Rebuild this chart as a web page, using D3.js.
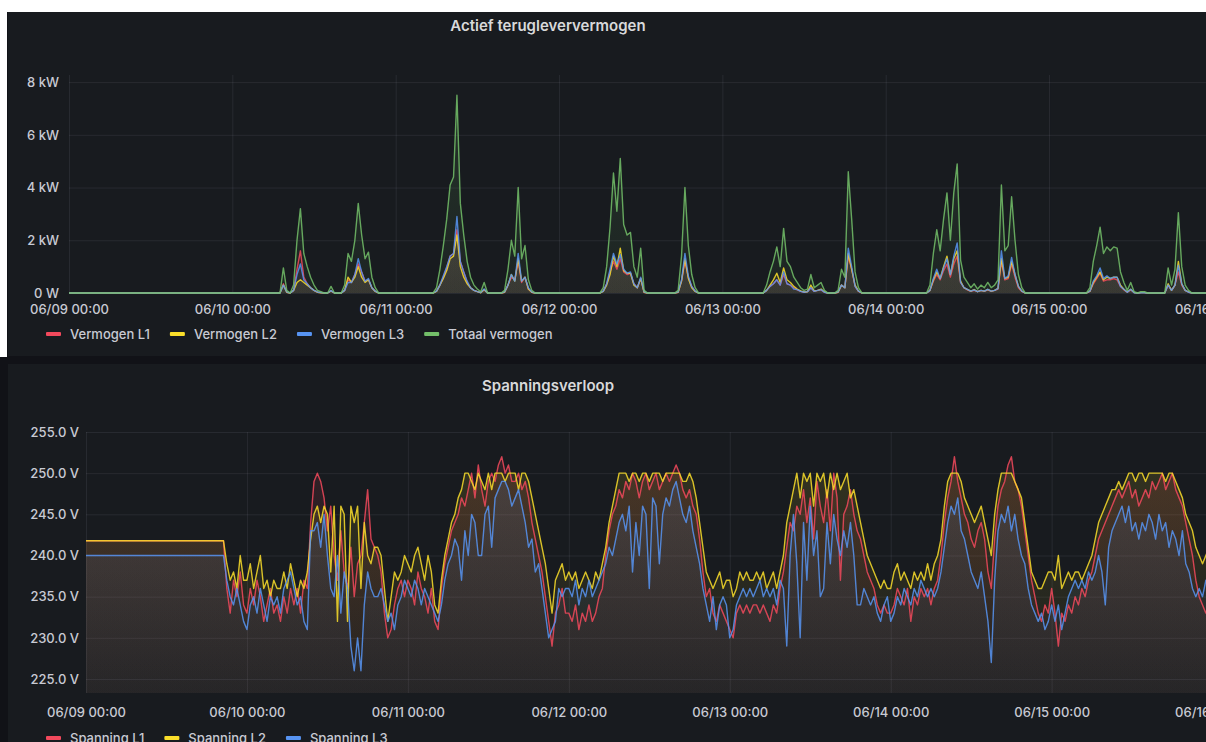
<!DOCTYPE html>
<html>
<head>
<meta charset="utf-8">
<script src="https://cdn.jsdelivr.net/npm/d3@7"></script>
<style>
  body { margin: 0; background: #ffffff; overflow: hidden; }
  svg { display: block; }
  text { font-family: Inter, Roboto, "Noto Sans", sans-serif; }
</style>
</head>
<body>
<div id="chart"></div>
<script>
// samples every 30 minutes, starting 06/09 00:00 (one row = one day)
var startTime = Date.UTC(2023, 5, 9, 0, 0);
var stepMinutes = 30;

// ---- Actief terugleververmogen (kW) ----
var totaalVermogen = [
  0,0,0,0,0,0,0,0,0,0,0,0, 0,0,0,0,0,0,0,0,0,0,0,0, 0,0,0,0,0,0,0,0,0,0,0,0, 0,0,0,0,0,0,0,0,0,0,0,0,
  0,0,0,0,0,0,0,0,0,0,0,0, 0,0,0,0.95,0.1,0,0.3,2.0,3.2,1.5,1.0,0.6, 0.3,0.1,0.05,0,0,0.25,0,0,0,0.3,1.5,1.2, 2.0,3.4,2.2,1.3,1.55,0.6,0.2,0,0,0,0,0,
  0,0,0,0,0,0,0,0,0,0,0,0, 0.2,0.9,1.8,2.8,4.1,4.4,7.5,3.4,2.2,1.2,0.6,0.3, 0.15,0.05,0.4,0,0,0,0,0,0.1,0.9,2.0,1.4, 4.0,1.3,1.8,0.5,0.1,0,0,0,0,0,0,0,
  0,0,0,0,0,0,0,0,0,0,0,0, 0,0.2,1.0,2.5,4.55,3.1,5.1,2.6,2.2,2.3,1.0,0.6, 1.7,0.1,0,0,0,0,0,0,0,0,0,0.1, 1.4,4.0,1.8,0.7,0.2,0,0,0,0,0,0,0,
  0,0,0,0,0,0,0,0,0,0,0,0, 0,0.3,0.8,1.2,1.75,1.0,2.45,1.2,1.0,0.6,0.4,0.2, 0.1,0.15,0.7,0.2,0.3,0.4,0.1,0,0,0,0.1,0.9, 0.6,4.6,2.8,0.8,0.2,0,0,0,0,0,0,0,
  0,0,0,0,0,0,0,0,0,0,0,0, 0,0.3,1.5,2.4,1.6,2.8,3.8,2.0,3.8,4.9,1.25,0.6, 0.4,0.2,0.35,0.15,0.3,0.2,0.4,0.2,0.3,0.5,4.1,1.6, 1.8,3.65,2.0,0.7,0.2,0,0,0,0,0,0,0,
  0,0,0,0,0,0,0,0,0,0,0,0, 0.2,1.2,1.8,2.5,1.5,1.75,1.6,1.75,1.7,0.8,0.4,0.1, 0.4,0.05,0,0.05,0.05,0,0,0,0,0,0,0.95, 0.3,0.9,3.05,1.0,0.3,0.1,0,0,0,0,0,0,
  0,0,0,0
];
var vermogenL1 = [
  0,0,0,0,0,0,0,0,0,0,0,0, 0,0,0,0,0,0,0,0,0,0,0,0, 0,0,0,0,0,0,0,0,0,0,0,0, 0,0,0,0,0,0,0,0,0,0,0,0,
  0,0,0,0,0,0,0,0,0,0,0,0, 0,0,0,0.35,0.03,0,0.1,0.9,1.6,0.6,0.35,0.2, 0.1,0.03,0.02,0,0,0.08,0,0,0,0.1,0.5,0.4, 0.7,1.1,0.8,0.45,0.5,0.2,0.07,0,0,0,0,0,
  0,0,0,0,0,0,0,0,0,0,0,0, 0.07,0.3,0.6,0.95,1.4,1.5,2.4,1.2,0.8,0.4,0.2,0.1, 0.05,0.02,0.12,0,0,0,0,0,0.03,0.3,0.6,0.5, 1.2,0.4,0.6,0.15,0.03,0,0,0,0,0,0,0,
  0,0,0,0,0,0,0,0,0,0,0,0, 0,0.07,0.35,0.8,1.2,0.9,1.3,0.8,0.7,0.75,0.35,0.2, 0.55,0.03,0,0,0,0,0,0,0,0,0,0.03, 0.45,1.2,0.6,0.25,0.07,0,0,0,0,0,0,0,
  0,0,0,0,0,0,0,0,0,0,0,0, 0,0.1,0.25,0.35,0.5,0.3,0.7,0.35,0.3,0.2,0.12,0.06, 0.03,0.05,0.2,0.06,0.1,0.12,0.03,0,0,0,0.03,0.3, 0.2,1.4,0.9,0.25,0.06,0,0,0,0,0,0,0,
  0,0,0,0,0,0,0,0,0,0,0,0, 0,0.1,0.45,0.7,0.5,0.85,1.1,0.6,1.1,1.4,0.4,0.2, 0.12,0.06,0.1,0.05,0.1,0.06,0.12,0.06,0.1,0.15,1.2,0.5, 0.55,1.1,0.6,0.2,0.06,0,0,0,0,0,0,0,
  0,0,0,0,0,0,0,0,0,0,0,0, 0.06,0.35,0.55,0.75,0.45,0.5,0.5,0.55,0.5,0.25,0.12,0.03, 0.12,0.02,0,0.02,0.02,0,0,0,0,0,0,0.3, 0.1,0.3,0.8,0.3,0.1,0.03,0,0,0,0,0,0,
  0,0,0,0
];
var vermogenL2 = [
  0,0,0,0,0,0,0,0,0,0,0,0, 0,0,0,0,0,0,0,0,0,0,0,0, 0,0,0,0,0,0,0,0,0,0,0,0, 0,0,0,0,0,0,0,0,0,0,0,0,
  0,0,0,0,0,0,0,0,0,0,0,0, 0,0,0,0.3,0.03,0,0.1,0.4,0.5,0.4,0.3,0.2, 0.1,0.03,0.01,0,0,0.08,0,0,0,0.1,0.6,0.4, 0.6,1.0,0.6,0.4,0.5,0.2,0.06,0,0,0,0,0,
  0,0,0,0,0,0,0,0,0,0,0,0, 0.06,0.3,0.55,0.85,1.3,1.4,2.2,1.0,0.6,0.35,0.2,0.1, 0.05,0.01,0.13,0,0,0,0,0,0.03,0.3,0.7,0.45, 1.3,0.45,0.6,0.15,0.03,0,0,0,0,0,0,0,
  0,0,0,0,0,0,0,0,0,0,0,0, 0,0.06,0.3,0.7,1.4,1.0,1.7,0.85,0.75,0.75,0.3,0.2, 0.55,0.03,0,0,0,0,0,0,0,0,0,0.03, 0.45,1.3,0.55,0.2,0.06,0,0,0,0,0,0,0,
  0,0,0,0,0,0,0,0,0,0,0,0, 0,0.1,0.3,0.5,0.75,0.4,0.95,0.5,0.4,0.25,0.15,0.08, 0.04,0.05,0.3,0.08,0.1,0.15,0.04,0,0,0,0.03,0.3, 0.2,1.5,0.9,0.3,0.07,0,0,0,0,0,0,0,
  0,0,0,0,0,0,0,0,0,0,0,0, 0,0.1,0.5,0.8,0.55,1.0,1.4,0.7,1.3,1.6,0.45,0.2, 0.14,0.07,0.13,0.05,0.1,0.07,0.14,0.07,0.1,0.18,1.3,0.55, 0.6,1.2,0.7,0.25,0.07,0,0,0,0,0,0,0,
  0,0,0,0,0,0,0,0,0,0,0,0, 0.07,0.4,0.6,0.8,0.5,0.6,0.55,0.6,0.6,0.3,0.14,0.04, 0.14,0.02,0,0.02,0.02,0,0,0,0,0,0,0.35, 0.1,0.3,1.2,0.35,0.1,0.04,0,0,0,0,0,0,
  0,0,0,0
];
var vermogenL3 = [
  0,0,0,0,0,0,0,0,0,0,0,0, 0,0,0,0,0,0,0,0,0,0,0,0, 0,0,0,0,0,0,0,0,0,0,0,0, 0,0,0,0,0,0,0,0,0,0,0,0,
  0,0,0,0,0,0,0,0,0,0,0,0, 0,0,0,0.3,0.04,0,0.1,0.7,1.1,0.5,0.35,0.2, 0.1,0.04,0.02,0,0,0.09,0,0,0,0.1,0.4,0.4, 0.7,1.3,0.8,0.45,0.55,0.2,0.07,0,0,0,0,0,
  0,0,0,0,0,0,0,0,0,0,0,0, 0.07,0.3,0.65,1.0,1.4,1.5,2.9,1.2,0.8,0.45,0.2,0.1, 0.05,0.02,0.15,0,0,0,0,0,0.04,0.3,0.7,0.45, 1.5,0.45,0.6,0.2,0.04,0,0,0,0,0,0,0,
  0,0,0,0,0,0,0,0,0,0,0,0, 0,0.07,0.35,0.9,1.5,1.1,1.45,0.9,0.75,0.8,0.35,0.2, 0.6,0.04,0,0,0,0,0,0,0,0,0,0.04, 0.5,1.5,0.65,0.25,0.07,0,0,0,0,0,0,0,
  0,0,0,0,0,0,0,0,0,0,0,0, 0,0.1,0.25,0.35,0.5,0.3,0.8,0.35,0.3,0.15,0.13,0.06, 0.03,0.05,0.2,0.06,0.1,0.13,0.03,0,0,0,0.04,0.3, 0.2,1.7,1.0,0.25,0.07,0,0,0,0,0,0,0,
  0,0,0,0,0,0,0,0,0,0,0,0, 0,0.1,0.55,0.9,0.55,0.95,1.3,0.7,1.4,1.9,0.4,0.2, 0.14,0.07,0.12,0.05,0.1,0.07,0.14,0.07,0.1,0.17,1.6,0.55, 0.65,1.35,0.7,0.25,0.07,0,0,0,0,0,0,0,
  0,0,0,0,0,0,0,0,0,0,0,0, 0.07,0.45,0.65,0.95,0.55,0.65,0.55,0.6,0.6,0.25,0.14,0.03, 0.14,0.01,0,0.01,0.01,0,0,0,0,0,0,0.3, 0.1,0.3,1.05,0.35,0.1,0.03,0,0,0,0,0,0,
  0,0,0,0
];

// ---- Spanningsverloop (V) ----
var spanningL1 = [
  241.8,241.8,241.8,241.8,241.8,241.8,241.8,241.8,241.8,241.8,241.8,241.8, 241.8,241.8,241.8,241.8,241.8,241.8,241.8,241.8,241.8,241.8,241.8,241.8,
  241.8,241.8,241.8,241.8,241.8,241.8,241.8,241.8,241.8,241.8,241.8,241.8, 241.8,241.8,241.8,241.8,241.8,241.8,236,233,237,235,238,234,
  233,236,234,237,235,232,234,236,233,234,232,235, 233,236,234,236,233,237,236,244,249,250,249,247,
  243,246,240,237,243,238,236,241,235,239,240,244, 248,242,241,240,238,233,230,231,234,236,237,235,
  237,236,234,238,236,235,233,236,232,231,236,239, 241,243,244,245,247,246,248,250,247,251,248,246,
  249,250,249,251,252,250,251,249,249,250,248,249, 247,244,242,240,238,235,232,229,233,234,236,233,
  233,232,234,231,233,232,234,232,233,235,236,240, 243,245,246,248,247,249,248,250,249,247,249,250,
  248,249,250,248,249,250,249,250,251,250,248,247, 248,246,245,242,238,235,236,233,232,234,233,232,
  231,230,233,234,233,234,233,234,234,233,234,233, 232,234,233,236,238,241,244,243,246,245,248,244,
  247,242,249,246,244,248,243,250,247,237,245,246, 248,245,243,242,240,238,237,236,234,233,234,233,
  233,234,236,235,234,236,232,235,234,236,235,236, 234,236,237,240,244,247,249,252,249,247,245,244,
  242,241,243,244,242,238,236,242,246,248,249,251, 252,249,248,246,243,240,237,235,233,232,234,233,
  236,233,229,233,232,234,233,235,234,236,235,237, 238,240,242,243,244,245,246,247,248,247,248,249,
  247,248,246,247,248,247,249,248,249,250,248,249, 250,248,247,246,244,242,240,237,235,234,233,234,
  236,237,235,236
];
var spanningL2 = [
  241.8,241.8,241.8,241.8,241.8,241.8,241.8,241.8,241.8,241.8,241.8,241.8, 241.8,241.8,241.8,241.8,241.8,241.8,241.8,241.8,241.8,241.8,241.8,241.8,
  241.8,241.8,241.8,241.8,241.8,241.8,241.8,241.8,241.8,241.8,241.8,241.8, 241.8,241.8,241.8,241.8,241.8,241.8,239,237,238,236,240,237,
  237,239,236,238,240,236,237,235,237,236,236,238, 236,239,237,235,237,236,238,242,245,246,244,246,
  245,238,246,232,246,245,232,246,244,246,236,244, 240,239,241,241,240,236,232,235,238,237,238,240,
  239,238,240,241,239,237,240,238,234,233,237,240, 242,244,245,247,248,250,250,249,248,250,249,248,
  250,248,250,250,250,249,250,250,250,248,250,250, 249,247,245,243,241,239,236,233,237,238,239,237,
  238,237,238,236,237,238,237,236,238,237,239,241, 244,246,248,250,250,250,249,250,250,249,250,250,
  249,250,250,250,249,250,250,250,250,250,249,249, 250,249,247,244,241,238,237,236,237,238,236,237,
  237,235,236,238,237,238,237,237,238,237,238,236, 237,238,236,238,240,244,246,248,250,247,250,249,
  250,246,250,249,250,247,250,248,250,248,249,250, 247,248,246,244,242,240,239,238,237,236,237,236,
  236,238,239,237,238,237,236,238,237,238,237,239, 237,239,240,242,246,249,250,250,250,249,247,246,
  245,244,245,246,244,242,240,245,248,250,250,250, 250,249,248,247,244,241,238,237,236,236,237,238,
  238,237,240,236,237,238,237,238,238,237,238,239, 240,242,244,245,246,247,248,248,249,248,249,250,
  250,249,250,250,249,250,250,250,250,250,249,250, 250,249,248,247,245,244,243,241,240,239,240,241,
  240,241,240,240
];
var spanningL3 = [
  240,240,240,240,240,240,240,240,240,240,240,240, 240,240,240,240,240,240,240,240,240,240,240,240,
  240,240,240,240,240,240,240,240,240,240,240,240, 240,240,240,240,240,240,237,235,234,236,234,232,
  231,234,235,233,236,234,232,235,234,235,233,236, 237,238,236,234,235,232,231,243,243,244,241,245,
  240,236,235,240,233,238,236,229,226,230,226,234, 238,236,235,235,236,234,232,233,231,234,235,237,
  236,235,237,236,234,236,235,234,233,232,234,237, 239,240,242,241,237,243,240,245,244,240,240,245,
  246,241,247,248,249,249,248,246,247,248,246,244, 241,242,238,239,236,233,230,231,232,236,235,236,
  236,235,237,234,236,235,237,235,236,237,238,239, 241,240,242,244,245,243,246,238,244,240,246,245,
  236,247,246,239,245,247,246,248,249,247,245,244, 246,243,241,239,236,234,232,235,231,234,235,234,
  230,231,234,235,236,235,236,235,236,237,235,236, 235,236,234,237,236,229,240,245,239,230,244,237,
  246,240,243,235,236,244,239,245,242,240,243,241, 244,240,234,234,236,235,234,235,233,232,234,235,
  232,233,235,234,236,235,234,236,235,237,236,235, 236,235,236,238,241,244,246,245,247,243,242,240,
  238,237,236,238,235,232,227,237,243,245,244,246, 243,245,242,240,239,236,234,233,232,233,231,232,
  234,232,234,231,233,235,236,237,236,237,236,238, 237,238,240,238,234,241,243,244,245,246,244,246,
  243,244,242,244,243,245,244,242,245,243,244,241, 243,242,240,243,239,238,236,235,236,235,237,236,
  235,236,234,235
];

var powerTicks = [0, 2, 4, 6, 8];
var voltTicks = [225, 230, 235, 240, 245, 250, 255];

var colors = { red: "#F2495C", yellow: "#FADE2A", blue: "#5794F2", green: "#73BF69" };

var powerSeries = [
  { name: "Vermogen L1", values: vermogenL1, color: colors.red },
  { name: "Vermogen L2", values: vermogenL2, color: colors.yellow },
  { name: "Vermogen L3", values: vermogenL3, color: colors.blue },
  { name: "Totaal vermogen", values: totaalVermogen, color: colors.green }
];
var voltSeries = [
  { name: "Spanning L1", values: spanningL1, color: colors.red },
  { name: "Spanning L2", values: spanningL2, color: colors.yellow },
  { name: "Spanning L3", values: spanningL3, color: colors.blue }
];

var times = totaalVermogen.map(function(d, i) { return new Date(startTime + i * stepMinutes * 60000); });
var endTime = new Date(startTime + totaalVermogen.length * stepMinutes * 60000);

var width = 1206, height = 742;
var svg = d3.select("#chart").append("svg")
    .attr("width", width)
    .attr("height", height);

// ---- BACKGROUND / PANELS ----
svg.append("rect").attr("x", 7).attr("y", 12).attr("width", width).attr("height", height).attr("fill", "#111217");
svg.append("rect").attr("x", 0).attr("y", 357).attr("width", 8).attr("height", height).attr("fill", "#111217");
svg.append("rect").attr("x", 8).attr("y", 12).attr("width", width).attr("height", 344).attr("fill", "#181b1f");
svg.append("rect").attr("x", 8).attr("y", 364).attr("width", width).attr("height", 390).attr("fill", "#181b1f");

var fmtTime = d3.utcFormat("%m/%d %H:%M");
var textColor = "#c8cad3";

function drawPanel(cfg) {
  var x = d3.scaleTime().domain([startTime, endTime]).range([cfg.left, 1226]);
  var y = d3.scaleLinear().domain(cfg.yDomain).range([cfg.bottom, cfg.top]);
  var g = svg.append("g");

  g.append("text")
      .attr("x", 548).attr("y", cfg.titleY)
      .attr("text-anchor", "middle")
      .attr("fill", "#d8d9da")
      .style("font-size", "15px").style("font-weight", 600)
      .text(cfg.title);

  // grid
  g.append("g")
      .attr("transform", "translate(0," + cfg.bottom + ")")
      .call(d3.axisBottom(x).ticks(d3.utcDay.every(1)).tickSize(-(cfg.bottom - cfg.top)).tickFormat(""))
      .call(function(s) { s.select(".domain").remove(); s.selectAll("line").attr("stroke", "rgba(204,204,220,0.09)"); });
  g.append("g")
      .attr("transform", "translate(" + cfg.left + ",0)")
      .call(d3.axisLeft(y).tickValues(cfg.ticks).tickSize(-(1226 - cfg.left)).tickFormat(""))
      .call(function(s) { s.select(".domain").remove(); s.selectAll("line").attr("stroke", "rgba(204,204,220,0.09)"); });

  // axis labels
  g.append("g")
      .attr("transform", "translate(0," + cfg.bottom + ")")
      .call(d3.axisBottom(x).ticks(d3.utcDay.every(1)).tickSize(0).tickPadding(cfg.xPad).tickFormat(fmtTime))
      .call(function(s) {
        s.select(".domain").remove();
        s.selectAll("text").attr("fill", textColor).style("font-size", "13px").style("font-weight", 500)
          .style("font-family", "Inter, Roboto, sans-serif");
      });
  g.append("g")
      .attr("transform", "translate(" + cfg.labelX + ",0)")
      .call(d3.axisLeft(y).tickValues(cfg.ticks).tickSize(0).tickPadding(0).tickFormat(cfg.yFormat))
      .call(function(s) {
        s.select(".domain").remove();
        s.selectAll("text").attr("fill", textColor).style("font-size", "13px").style("font-weight", 500)
          .style("font-family", "Inter, Roboto, sans-serif");
      });

  // fills + lines
  var defs = svg.append("defs");
  cfg.series.forEach(function(ser, k) {
    var gid = cfg.id + "grad" + k;
    var grad = defs.append("linearGradient").attr("id", gid)
        .attr("gradientUnits", "userSpaceOnUse")
        .attr("x1", 0).attr("y1", cfg.top).attr("x2", 0).attr("y2", cfg.bottom);
    grad.append("stop").attr("offset", "0%").attr("stop-color", ser.color).attr("stop-opacity", cfg.fillTop);
    grad.append("stop").attr("offset", "100%").attr("stop-color", ser.color).attr("stop-opacity", cfg.fillBottom);

    var area = d3.area()
        .x(function(d, i) { return x(times[i]); })
        .y0(cfg.bottom)
        .y1(function(d) { return y(d); });
    g.append("path").datum(ser.values)
        .attr("d", area)
        .attr("fill", "url(#" + gid + ")");
  });
  cfg.series.forEach(function(ser) {
    var line = d3.line()
        .x(function(d, i) { return x(times[i]); })
        .y(function(d) { return y(d); });
    g.append("path").datum(ser.values)
        .attr("d", line)
        .attr("fill", "none")
        .attr("stroke", ser.color)
        .attr("stroke-width", 1.4)
        .attr("stroke-opacity", 0.85)
        .attr("stroke-linejoin", "round");
  });

  // legend
  var lx = 46;
  cfg.series.forEach(function(ser) {
    var item = g.append("g").attr("transform", "translate(" + lx + "," + cfg.legendY + ")");
    item.append("rect").attr("x", 0).attr("y", -2).attr("width", 15).attr("height", 4).attr("rx", 1).attr("fill", ser.color);
    var t = item.append("text").attr("x", 24).attr("y", 0).attr("dy", "0.35em")
        .attr("fill", textColor).style("font-size", "13px").style("font-weight", 500).text(ser.name);
    lx += 24 + t.node().getComputedTextLength() + 20;
  });
}

drawPanel({
  id: "p", title: "Actief terugleververmogen", titleY: 31,
  left: 69, top: 75, bottom: 293, labelX: 59, xPad: 12,
  yDomain: [0, 8.27], ticks: powerTicks,
  yFormat: function(d) { return d === 0 ? "0 W" : d + " kW"; },
  series: powerSeries, fillTop: 0.14, fillBottom: 0.06, legendY: 334
});

drawPanel({
  id: "v", title: "Spanningsverloop", titleY: 391,
  left: 86, top: 432, bottom: 693, labelX: 79, xPad: 15,
  yDomain: [223.3, 255], ticks: voltTicks,
  yFormat: function(d) { return d3.format(".1f")(d) + " V"; },
  series: voltSeries, fillTop: 0.13, fillBottom: 0.03, legendY: 738
});
</script>
</body>
</html>
